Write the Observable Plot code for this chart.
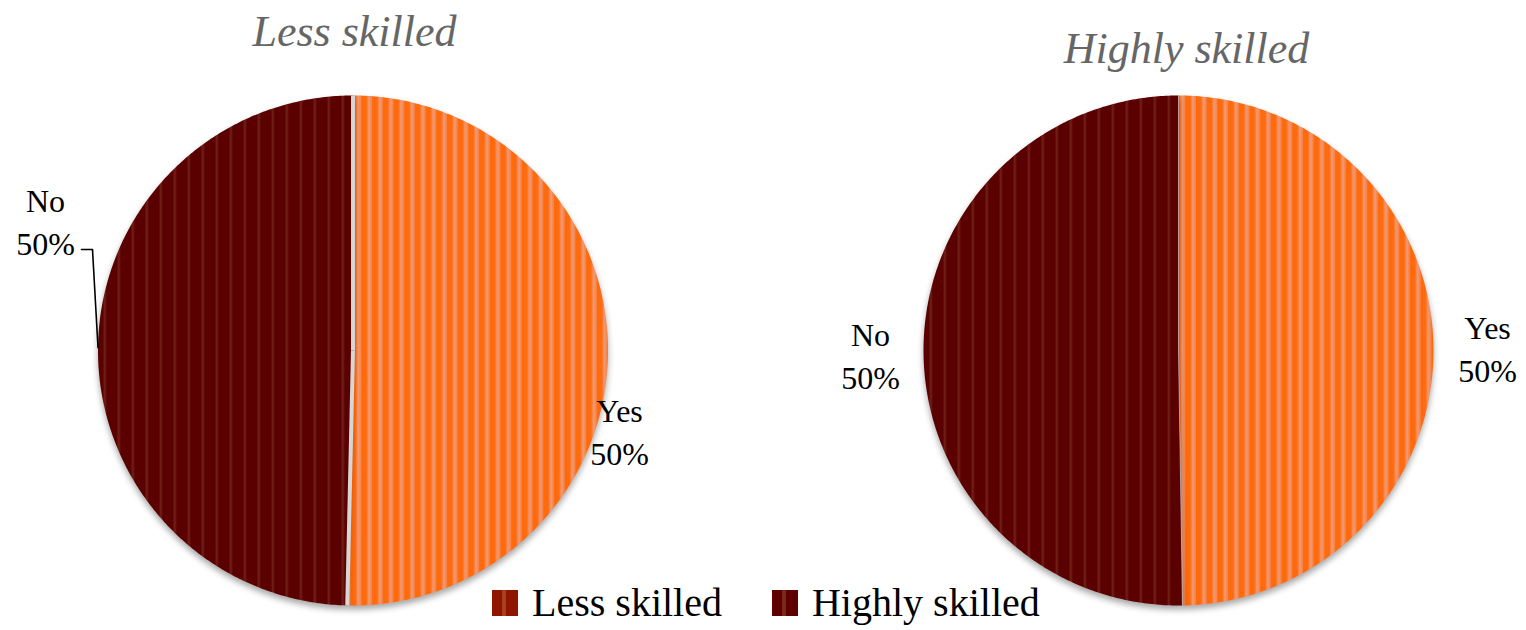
<!DOCTYPE html>
<html><head><meta charset="utf-8">
<script src="https://cdn.jsdelivr.net/npm/d3@7"></script>
<script src="https://cdn.jsdelivr.net/npm/@observablehq/plot@0.6"></script>
<style>
body{margin:0;background:#fff;}
#wrap{position:relative;width:1526px;height:630px;overflow:hidden;}
#legend{position:absolute;left:492px;top:580px;height:46px;display:flex;align-items:center;font-family:"Liberation Serif",serif;font-size:40px;line-height:46px;color:#000;}
.sw{width:26px;height:26px;margin-right:14px;}
.item{display:flex;align-items:center;margin-right:50px;}
</style></head><body>
<div id="wrap">
 <div id="legend"></div>
</div>
<script>
// ---- data ----
const pieNames = ["Less skilled", "Highly skilled"];
const answers = ["Yes", "No"];
const lessSkilledShares = [50.36, 49.64];
const highlySkilledShares = [49.75, 50.25];
const legendLabels = ["Less skilled", "Highly skilled"];

// ---- styling / layout ----
const answerBase = {Yes: "#ff6a0c", No: "#5a0000"};
const answerPattern = {Yes: "url(#stripeYes)", No: "url(#stripeNo)"};
const legendSwatch = [
  "linear-gradient(90deg,#8e1600 0 40%,#a8401c 40% 55%,#8e1600 55%)",
  "linear-gradient(90deg,#5e0000 0 40%,#7a2818 40% 55%,#5e0000 55%)"
];
const W = 1526, H = 630, R = 255;        // px per radius unit
const ox = 352.5, oy = 350;               // pixel position of left pie centre
const ux = px => (px - ox) / R;
const uy = py => (oy - py) / R;
const centers = [0, ux(1178)];
const separatorWidth = [4, 0.6];

const shares = [lessSkilledShares, highlySkilledShares];

// build slices
const slicePts = [];
const seps = [];
const mids = [];
shares.forEach((vals, p) => {
  const total = d3.sum(vals);
  let a0 = 0;
  vals.forEach((v, i) => {
    const a1 = a0 + v / total * 2 * Math.PI;
    const key = pieNames[p] + "-" + answers[i];
    const cx = centers[p];
    const ans = answers[i];
    slicePts.push({key, ans, x: cx, y: 0});
    const n = Math.max(2, Math.ceil((a1 - a0) / 0.01));
    for (let k = 0; k <= n; k++) {
      const a = a0 + (a1 - a0) * k / n;
      slicePts.push({key, ans, x: cx + Math.sin(a), y: Math.cos(a)});
    }
    slicePts.push({key, ans, x: cx, y: 0});
    seps.push({x1: cx, y1: 0, x2: cx + Math.sin(a0), y2: Math.cos(a0), w: separatorWidth[p]});
    const am = (a0 + a1) / 2;
    mids.push({pie: p, answer: ans, x: cx + Math.sin(am), y: Math.cos(am),
               label: ans + "\n" + Math.round(v) + "%"});
    a0 = a1;
  });
});

// label placement (pixel centres of the two-line blocks)
const labelPos = {
  "0-Yes": [619, 429], "0-No": [45, 219],
  "1-Yes": [1487, 346], "1-No": [870, 353]
};
const labels = mids.map(m => {
  const [px, py] = labelPos[m.pie + "-" + m.answer];
  return {x: ux(px), y: uy(py), label: m.label};
});
const noLeft = mids.find(m => m.pie === 0 && m.answer === "No");
const leader = [{x: ux(81), y: uy(249)}, {x: ux(92), y: uy(249)}, {x: noLeft.x, y: noLeft.y}];

const titles = [
  {x: ux(354), y: uy(31), t: pieNames[0]},
  {x: ux(1186), y: uy(48), t: pieNames[1]}
];

const chart = Plot.plot({
  width: W, height: H, margin: 0,
  x: {domain: [ux(0), ux(W)], axis: null},
  y: {domain: [uy(H), uy(0)], axis: null},
  style: {background: "transparent"},
  marks: answers.map(a =>
    Plot.line(slicePts.filter(d => d.ans === a), {x: "x", y: "y", z: "key", fill: answerBase[a], stroke: "none"})
  ).concat([
    Plot.link(seps, {x1: "x1", y1: "y1", x2: "x2", y2: "y2", stroke: "#d6d6d6", strokeWidth: "w"}),
    Plot.line(leader, {x: "x", y: "y", stroke: "#000", strokeWidth: 1.6}),
    Plot.text(labels, {x: "x", y: "y", text: "label", fontSize: 32, lineHeight: 1.35,
      fontFamily: "Liberation Serif", fill: "#000"}),
    Plot.text(titles, {x: "x", y: "y", text: "t", fontSize: 44, fontStyle: "italic",
      fontFamily: "Liberation Serif", fill: "#666"})
  ])
});
chart.style.position = "absolute";
chart.style.left = "0"; chart.style.top = "0";

const svg = d3.select(chart);
// swap the slices' base colours for the stripe patterns (before the patterns exist)
answers.forEach(a => {
  svg.selectAll(`g[fill="${answerBase[a]}"]`).attr("fill", answerPattern[a])
    .style("filter", "drop-shadow(0px 4px 3px rgba(0,0,0,0.35))");
});
// stripe patterns inside the chart's own svg
const defs = svg.insert("defs", ":first-child");
const pY = defs.append("pattern").attr("id", "stripeYes").attr("patternUnits", "userSpaceOnUse")
  .attr("width", 10.7).attr("height", 20);
pY.append("rect").attr("width", 10.7).attr("height", 20).attr("fill", "#ff6a0c");
pY.append("rect").attr("x", 2.6).attr("width", 1.2).attr("height", 20).attr("fill", "#fa8448");
pY.append("rect").attr("x", 3.8).attr("width", 2.8).attr("height", 20).attr("fill", "#f0976f");
pY.append("rect").attr("x", 6.6).attr("width", 1.2).attr("height", 20).attr("fill", "#fa8448");
const pN = defs.append("pattern").attr("id", "stripeNo").attr("patternUnits", "userSpaceOnUse")
  .attr("width", 14).attr("height", 20);
pN.append("rect").attr("width", 14).attr("height", 20).attr("fill", "#5a0000");
pN.append("rect").attr("x", 5).attr("width", 2.6).attr("height", 20).attr("fill", "#6d1c14");

const wrap = document.getElementById("wrap");
wrap.insertBefore(chart, wrap.firstChild);

const legend = d3.select("#legend");
legendLabels.forEach((l, i) => {
  const it = legend.append("div").attr("class", "item");
  it.append("div").attr("class", "sw").style("background", legendSwatch[i]);
  it.append("span").text(l);
});
</script>
</body></html>
